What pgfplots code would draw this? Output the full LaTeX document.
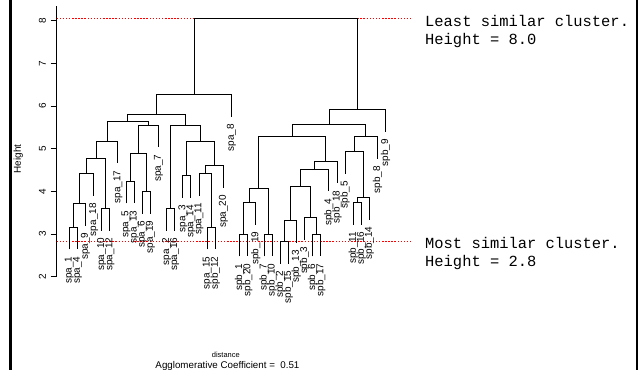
\documentclass[border=0pt]{standalone}
\usepackage{pgfplots}
\pgfplotsset{compat=1.18}
\usepackage{fontspec}
\setmainfont{Liberation Sans}
\newfontfamily\monofont{Liberation Mono}
\tikzset{lbl/.style={yshift=-7bp, rotate=90, anchor=east, inner sep=0pt, font=\fontsize{10}{12}\selectfont}}
\begin{document}
\begin{tikzpicture}
\begin{axis}[
  scale only axis, width=341.7bp, height=270.5bp,
  xmin=-0.56, xmax=41.56, ymin=2, ymax=8.34,
  axis x line=none, axis y line*=left,
  clip=false,
  ytick={2,3,4,5,6,7,8},
  tick align=outside, major tick length=6bp,
  y axis line style={line width=0.8bp, black},
  ytick style={line width=0.8bp, black},
  yticklabel style={xshift=-4.5bp, rotate=90, anchor=south, inner sep=0pt, font=\fontsize{10}{12}\selectfont},
  /pgf/number format/assume math mode=true,
  unbounded coords=jump,
]
% reference lines
\addplot[red, line width=1.5bp, dash pattern=on 1.5bp off 1.6bp] coordinates {(-0.56,8.05) (43.02,8.05)};
\addplot[red, line width=1.5bp, dash pattern=on 1.5bp off 1.6bp] coordinates {(-0.56,2.83) (43.02,2.83)};
% dendrogram
\addplot[black, line width=0.9bp] table[row sep=\\]{
x y\\
1 2.638\\ 1 3.16\\ 2 3.16\\ 2 2.638\\ nan nan\\
1.5 3.16\\ 1.5 3.72\\ 3 3.72\\ 3 3.198\\ nan nan\\
2.25 3.72\\ 2.25 4.41\\ 4 4.41\\ 4 3.888\\ nan nan\\
5 3.078\\ 5 3.60\\ 6 3.60\\ 6 3.078\\ nan nan\\
3.125 4.41\\ 3.125 4.76\\ 5.5 4.76\\ 5.5 3.60\\ nan nan\\
4.3125 4.76\\ 4.3125 5.18\\ 7 5.18\\ 7 4.658\\ nan nan\\
8 3.718\\ 8 4.24\\ 9 4.24\\ 9 3.718\\ nan nan\\
10 3.478\\ 10 4.00\\ 11 4.00\\ 11 3.478\\ nan nan\\
8.5 4.24\\ 8.5 4.88\\ 10.5 4.88\\ 10.5 4.00\\ nan nan\\
9.5 4.88\\ 9.5 5.55\\ 12 5.55\\ 12 5.028\\ nan nan\\
5.65625 5.18\\ 5.65625 5.63\\ 10.75 5.63\\ 10.75 5.55\\ nan nan\\
13 3.078\\ 13 3.60\\ 14 3.60\\ 14 3.078\\ nan nan\\
15 3.848\\ 15 4.37\\ 16 4.37\\ 16 3.848\\ nan nan\\
18 2.638\\ 18 3.16\\ 19 3.16\\ 19 2.638\\ nan nan\\
17 3.898\\ 17 4.42\\ 18.5 4.42\\ 18.5 3.16\\ nan nan\\
17.75 4.42\\ 17.75 4.60\\ 20 4.60\\ 20 4.078\\ nan nan\\
15.5 4.37\\ 15.5 5.18\\ 18.875 5.18\\ 18.875 4.60\\ nan nan\\
13.5 3.60\\ 13.5 5.55\\ 17.1875 5.55\\ 17.1875 5.18\\ nan nan\\
8.203125 5.63\\ 8.203125 5.81\\ 15.34375 5.81\\ 15.34375 5.55\\ nan nan\\
11.7734 5.81\\ 11.7734 6.27\\ 21 6.27\\ 21 5.748\\ nan nan\\
22 2.478\\ 22 3.00\\ 23 3.00\\ 23 2.478\\ nan nan\\
22.5 3.00\\ 22.5 3.74\\ 24 3.74\\ 24 3.218\\ nan nan\\
25 2.478\\ 25 3.00\\ 26 3.00\\ 26 2.478\\ nan nan\\
23.25 3.74\\ 23.25 4.07\\ 25.5 4.07\\ 25.5 3.00\\ nan nan\\
27 2.308\\ 27 2.83\\ 28 2.83\\ 28 2.308\\ nan nan\\
27.5 2.83\\ 27.5 3.31\\ 29 3.31\\ 29 2.788\\ nan nan\\
31 2.478\\ 31 3.00\\ 32 3.00\\ 32 2.478\\ nan nan\\
30 2.868\\ 30 3.39\\ 31.5 3.39\\ 31.5 3.00\\ nan nan\\
28.25 3.31\\ 28.25 4.11\\ 30.75 4.11\\ 30.75 3.39\\ nan nan\\
29.5 4.11\\ 29.5 4.52\\ 33 4.52\\ 33 3.998\\ nan nan\\
31.25 4.52\\ 31.25 4.71\\ 34 4.71\\ 34 4.188\\ nan nan\\
24.375 4.07\\ 24.375 5.28\\ 32.625 5.28\\ 32.625 4.71\\ nan nan\\
36 3.218\\ 36 3.74\\ 37 3.74\\ 37 3.218\\ nan nan\\
36.5 3.74\\ 36.5 3.86\\ 38 3.86\\ 38 3.338\\ nan nan\\
35 4.408\\ 35 4.93\\ 37.25 4.93\\ 37.25 3.86\\ nan nan\\
36.125 4.93\\ 36.125 5.28\\ 39 5.28\\ 39 4.758\\ nan nan\\
28.5 5.28\\ 28.5 5.57\\ 37.5625 5.57\\ 37.5625 5.28\\ nan nan\\
33.03125 5.57\\ 33.03125 5.91\\ 40 5.91\\ 40 5.388\\ nan nan\\
16.3867 6.27\\ 16.3867 8.05\\ 36.5156 8.05\\ 36.5156 5.91\\
};
% leaf labels
\node[lbl] at (axis cs:1,2.638) {spa\_1};
\node[lbl] at (axis cs:2,2.638) {spa\_4};
\node[lbl] at (axis cs:3,3.198) {spa\_9};
\node[lbl] at (axis cs:4,3.888) {spa\_18};
\node[lbl] at (axis cs:5,3.078) {spa\_10};
\node[lbl] at (axis cs:6,3.078) {spa\_12};
\node[lbl] at (axis cs:7,4.658) {spa\_17};
\node[lbl] at (axis cs:8,3.718) {spa\_5};
\node[lbl] at (axis cs:9,3.718) {spa\_13};
\node[lbl] at (axis cs:10,3.478) {spa\_6};
\node[lbl] at (axis cs:11,3.478) {spa\_19};
\node[lbl] at (axis cs:12,5.028) {spa\_7};
\node[lbl] at (axis cs:13,3.078) {spa\_2};
\node[lbl] at (axis cs:14,3.078) {spa\_16};
\node[lbl] at (axis cs:15,3.848) {spa\_3};
\node[lbl] at (axis cs:16,3.848) {spa\_14};
\node[lbl] at (axis cs:17,3.898) {spa\_11};
\node[lbl] at (axis cs:18,2.638) {spa\_15};
\node[lbl] at (axis cs:19,2.638) {spb\_12};
\node[lbl] at (axis cs:20,4.078) {spa\_20};
\node[lbl] at (axis cs:21,5.748) {spa\_8};
\node[lbl] at (axis cs:22,2.478) {spb\_1};
\node[lbl] at (axis cs:23,2.478) {spb\_20};
\node[lbl] at (axis cs:24,3.218) {spb\_19};
\node[lbl] at (axis cs:25,2.478) {spb\_7};
\node[lbl] at (axis cs:26,2.478) {spb\_10};
\node[lbl] at (axis cs:27,2.308) {spb\_2};
\node[lbl] at (axis cs:28,2.308) {spb\_15};
\node[lbl] at (axis cs:29,2.788) {spb\_13};
\node[lbl] at (axis cs:30,2.868) {spb\_3};
\node[lbl] at (axis cs:31,2.478) {spb\_6};
\node[lbl] at (axis cs:32,2.478) {spb\_17};
\node[lbl] at (axis cs:33,3.998) {spb\_4};
\node[lbl] at (axis cs:34,4.188) {spb\_18};
\node[lbl] at (axis cs:35,4.408) {spb\_5};
\node[lbl] at (axis cs:36,3.218) {spb\_11};
\node[lbl] at (axis cs:37,3.218) {spb\_16};
\node[lbl] at (axis cs:38,3.338) {spb\_14};
\node[lbl] at (axis cs:39,4.758) {spb\_8};
\node[lbl] at (axis cs:40,5.388) {spb\_9};
% texts
\node[rotate=90, font=\fontsize{10}{12}\selectfont] at (axis cs:-5.281,4.758) {Height};
\node[anchor=base, inner sep=0pt, font=\fontsize{7.5}{9}\selectfont] at (axis cs:20.3,0.095) {distance};
\node[anchor=base, inner sep=0pt, font=\fontsize{9.8}{12}\selectfont] at (axis cs:20.5,-0.16) {Agglomerative Coefficient =\ \ 0.51};
\node[anchor=base west, inner sep=0pt, font=\monofont\fontsize{15.5}{18}\selectfont] at (axis cs:44.85,7.875) {Least similar cluster.};
\node[anchor=base west, inner sep=0pt, font=\monofont\fontsize{15.5}{18}\selectfont] at (axis cs:44.85,7.446) {Height = 8.0};
\node[anchor=base west, inner sep=0pt, font=\monofont\fontsize{15.5}{18}\selectfont] at (axis cs:44.85,2.666) {Most similar cluster.};
\node[anchor=base west, inner sep=0pt, font=\monofont\fontsize{15.5}{18}\selectfont] at (axis cs:44.85,2.234) {Height = 2.8};
% frame edges
\draw[black, line width=2.7bp] (axis cs:-6.267,-0.187) -- (axis cs:-6.267,8.485);
\draw[black, line width=2.7bp] (axis cs:70.98,-0.187) -- (axis cs:70.98,8.485);
\coordinate (BL) at (axis cs:-7.537,-0.187);
\coordinate (TR) at (axis cs:71.477,8.485);
\end{axis}
\pgfresetboundingbox
\path[use as bounding box] (BL) rectangle (TR);
\end{tikzpicture}
\end{document}
